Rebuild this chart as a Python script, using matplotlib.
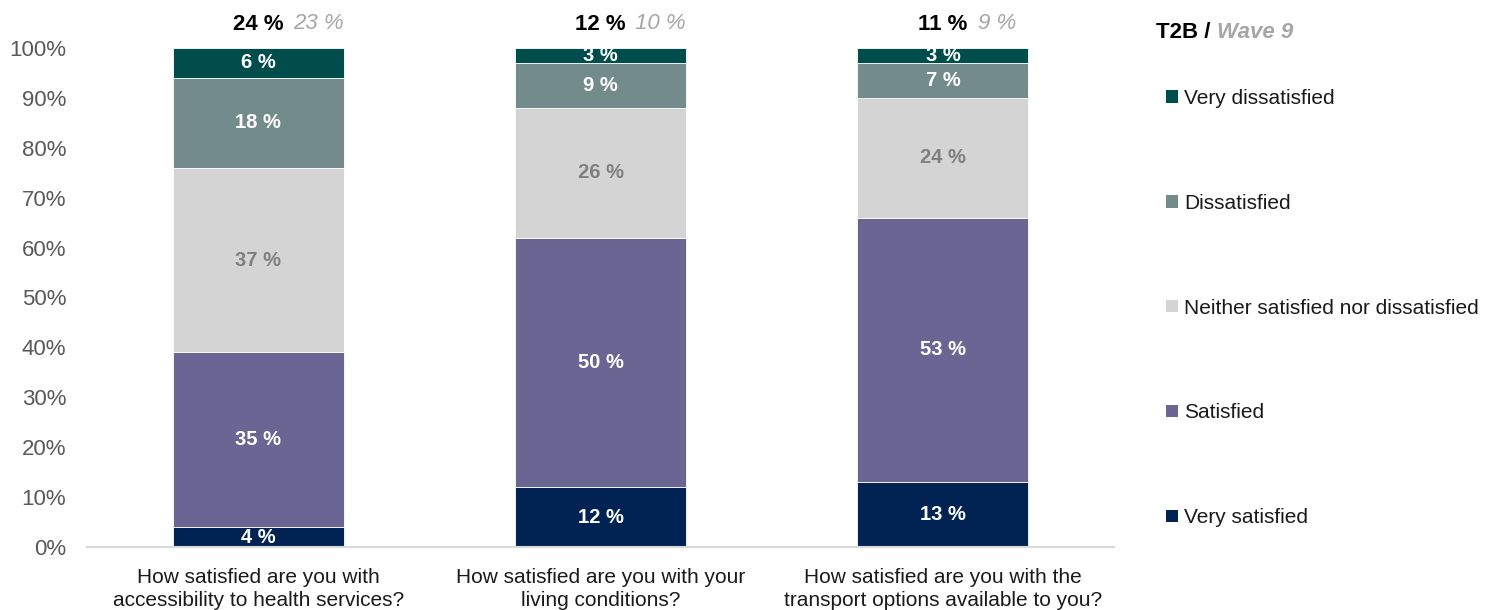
import numpy as np
import matplotlib.pyplot as plt
from matplotlib.patches import Patch

plt.rcParams['font.family'] = ['Liberation Sans', 'DejaVu Sans']

questions = [
    "How satisfied are you with\naccessibility to health services?",
    "How satisfied are you with your\nliving conditions?",
    "How satisfied are you with the\ntransport options available to you?",
]
levels = ["Very satisfied", "Satisfied", "Neither satisfied nor dissatisfied",
          "Dissatisfied", "Very dissatisfied"]
very_satisfied = [4, 12, 13]
satisfied = [35, 50, 53]
neutral = [37, 26, 24]
dissatisfied = [18, 9, 7]
very_dissatisfied = [6, 3, 3]
t2b_now = [24, 12, 11]
t2b_wave9 = [23, 10, 9]

series = [very_satisfied, satisfied, neutral, dissatisfied, very_dissatisfied]
colors = ["#012354", "#6a6592", "#d4d4d4", "#738b8a", "#004d4b"]
label_colors = ["white", "white", "#808080", "white", "white"]

fig = plt.figure(figsize=(14.94, 6.10), dpi=100)
ax = fig.add_axes([0.0582, 0.1033, 0.6875, 0.818])

x = np.arange(len(questions))
bottom = np.zeros(len(questions))
for vals, col, lc in zip(series, colors, label_colors):
    vals = np.array(vals, dtype=float)
    ax.bar(x, vals, 0.5, bottom=bottom, color=col, edgecolor="white", linewidth=0.6)
    for xi, b, v in zip(x, bottom, vals):
        ax.text(xi, b + v / 2, f"{int(v)} %", ha="center", va="center",
                fontsize=14.5, fontweight="bold", color=lc)
    bottom += vals

# T2B now / previous wave above each bar
for xi, a, b in zip(x, t2b_now, t2b_wave9):
    ax.annotate(f"{a} %", (xi, 100), xytext=(0, 17), textcoords="offset points",
                ha="center", va="center", fontsize=16, fontweight="bold", color="black")
    ax.annotate(f"{b} %", (xi, 100), xytext=(25, 18), textcoords="offset points",
                ha="left", va="center", fontsize=16, fontstyle="italic",
                color="#a6a6a6")

ax.set_xlim(-0.5, 2.5)
ax.set_ylim(0, 100)
ax.set_yticks(np.arange(0, 101, 10))
ax.set_yticklabels([f"{v}%" for v in range(0, 101, 10)])
ax.set_xticks(x)
ax.set_xticklabels(questions, fontsize=15, color="#1a1a1a")
for t in ax.get_xticklabels():
    t.set_linespacing(1.3)
ax.tick_params(axis="y", length=0, labelsize=16, labelcolor="#595959", pad=15)
ax.tick_params(axis="x", length=0, pad=15)
for side in ["left", "right", "top"]:
    ax.spines[side].set_visible(False)
ax.spines["bottom"].set_color("#d9d9d9")
ax.spines["bottom"].set_linewidth(1.5)

handles = [Patch(facecolor=c, label=l) for c, l in zip(colors, levels)][::-1]
leg = fig.legend(handles=handles, loc="upper left", bbox_to_anchor=(0.768, 0.885),
                 frameon=False, fontsize=15, handlelength=0.55, handleheight=0.55,
                 handletextpad=0.3, labelspacing=4.12, labelcolor="#1a1a1a")

title = fig.text(0.774, 0.947, "T2B / ", fontsize=16, fontweight="bold",
                 ha="left", va="center")
ax.annotate("Wave 9", xy=(1, 0.5), xycoords=title, ha="left", va="center",
            fontsize=16, fontweight="bold", fontstyle="italic", color="#a6a6a6")

fig.savefig("out.png", dpi=100)
